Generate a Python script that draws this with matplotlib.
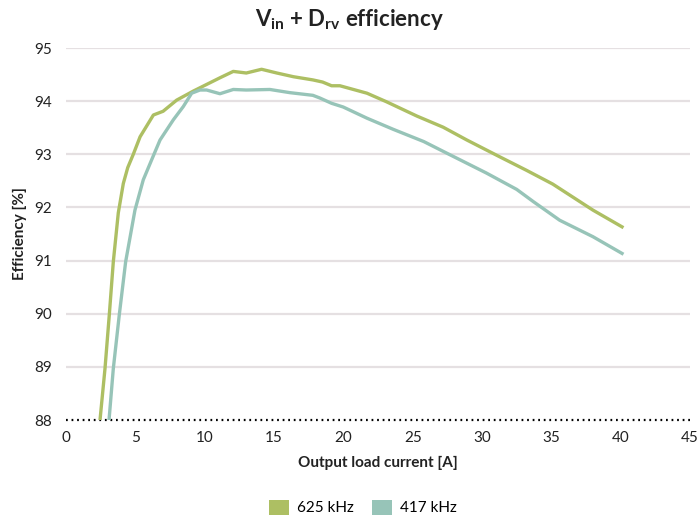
import matplotlib
matplotlib.use("Agg")
import matplotlib.pyplot as plt
from matplotlib.patches import Patch

FONT = "Lato"
plt.rcParams["font.family"] = [FONT, "DejaVu Sans"]
plt.rcParams["mathtext.fontset"] = "custom"
plt.rcParams["mathtext.rm"] = f"{FONT}:bold"
plt.rcParams["mathtext.bf"] = f"{FONT}:bold"

# 625 kHz curve
x_625 = [2.45, 2.81, 3.12, 3.41, 3.77, 4.13, 4.45, 4.85, 5.34, 6.3, 7.0, 7.98,
         9.18, 11.1, 12.06, 13.0, 14.1, 15.2, 16.4, 17.8, 18.5, 19.15, 19.75,
         21.7, 23.1, 25.3, 27.2, 28.9, 31.3, 33.2, 35.1, 38.0, 40.2]
y_625 = [88.0, 88.97, 89.98, 90.98, 91.9, 92.45, 92.75, 93.0, 93.33, 93.74,
         93.81, 94.02, 94.19, 94.44, 94.56, 94.53, 94.60, 94.53, 94.46, 94.40,
         94.36, 94.29, 94.29, 94.15, 93.99, 93.72, 93.51, 93.27, 92.95, 92.70,
         92.44, 91.95, 91.62]

# 417 kHz curve
x_417 = [3.1, 3.41, 3.84, 4.3, 4.97, 5.57, 6.18, 6.78, 7.74, 8.46, 9.06, 9.66,
         10.14, 11.1, 12.06, 13.0, 14.7, 16.15, 17.8, 18.3, 19.15, 19.99, 21.7,
         23.6, 25.8, 27.7, 30.3, 32.5, 33.7, 35.6, 38.0, 40.2]
y_417 = [88.0, 88.97, 89.98, 90.98, 91.95, 92.52, 92.9, 93.27, 93.65, 93.90,
         94.15, 94.21, 94.21, 94.14, 94.22, 94.21, 94.22, 94.16, 94.11, 94.06,
         93.96, 93.89, 93.68, 93.47, 93.24, 92.99, 92.65, 92.34, 92.11, 91.76,
         91.45, 91.12]

series_labels = ["625 kHz", "417 kHz"]
colors = ["#adbf63", "#97c4b8"]
x_ticks = [0, 5, 10, 15, 20, 25, 30, 35, 40, 45]
y_ticks = [88, 89, 90, 91, 92, 93, 94, 95]

fig = plt.figure(figsize=(6.98, 5.18), dpi=100)
ax = fig.add_axes([0.0946, 0.189, 0.894, 0.7183])

ax.plot(x_625, y_625, color=colors[0], lw=2.4, zorder=3, solid_capstyle="butt")
ax.plot(x_417, y_417, color=colors[1], lw=2.4, zorder=3, solid_capstyle="butt")

ax.set_xlim(0, 45)
ax.set_ylim(88, 95)
ax.set_xticks(x_ticks)
ax.set_yticks(y_ticks)
ax.tick_params(length=0, labelsize=11, colors="#222222", pad=8)
ax.tick_params(axis="y", pad=10)

for y in y_ticks[1:]:
    ax.axhline(y, color="#e5e0e2", lw=1.6, zorder=1)
# dotted baseline at the bottom of the plot
ax.axhline(88, color="black", lw=1.6, ls=(0, (0.8, 1.7)), zorder=2, clip_on=False)

for s in ax.spines.values():
    s.set_visible(False)

ax.set_xlabel("Output load current [A]", fontsize=11, fontweight="bold",
              color="#222222", labelpad=8)
ax.set_ylabel("Efficiency [%]", fontsize=11, fontweight="bold",
              color="#222222", labelpad=5)
fig.text(0.5, 0.962, r"V$_{\mathrm{in}}$ + D$_{\mathrm{rv}}$ efficiency",
         ha="center", va="center", fontsize=16, fontweight="bold", color="#222222")

handles = [Patch(facecolor=c, edgecolor="none") for c in colors]
fig.legend(handles, series_labels, loc="center", bbox_to_anchor=(0.52, 0.02),
           ncol=2, frameon=False, fontsize=11, handlelength=1.3, handleheight=1.1,
           handletextpad=0.5, columnspacing=1.2)

fig.savefig("out.png", dpi=100)
